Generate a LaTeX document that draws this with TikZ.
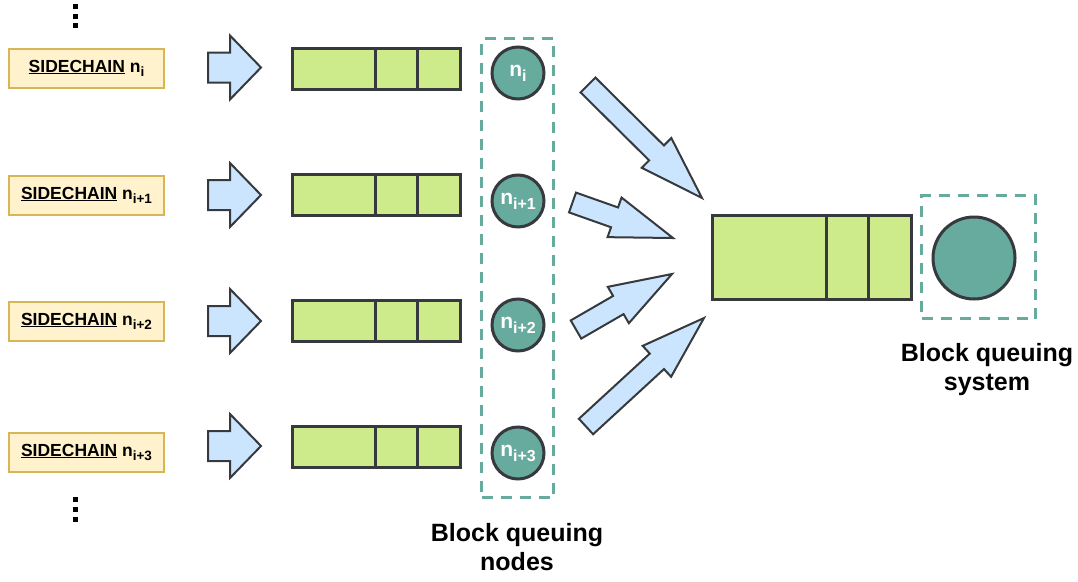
\documentclass[tikz,border=0pt]{standalone}
\usepackage{fontspec}
\setmainfont{Liberation Sans}
\usetikzlibrary{calc}
\definecolor{scfill}{HTML}{FFF2CC}
\definecolor{scdraw}{HTML}{D6B656}
\definecolor{arfill}{HTML}{CCE5FF}
\definecolor{dark}{HTML}{36393D}
\definecolor{qfill}{HTML}{CDEB8B}
\definecolor{teal}{HTML}{67AB9F}
\newcommand{\scsub}[1]{\raisebox{-4pt}{\fontsize{13.5}{14}\selectfont #1}}
\newcommand{\cirsub}[1]{\raisebox{-5pt}{\fontsize{16}{17}\selectfont #1}}
\tikzset{
  sidechain/.style={draw=scdraw, fill=scfill, line width=2pt, minimum width=155pt, minimum height=39pt, inner sep=0pt, font=\fontsize{17.5}{20}\selectfont\bfseries},
  barrowstyle/.style={draw=dark, fill=arfill, line width=2pt, line join=miter},
  queue/.style={draw=dark, fill=qfill, line width=3pt, inner sep=0pt},
  qnode/.style={circle, draw=dark, fill=teal, line width=3pt, minimum size=52pt, inner sep=0pt, text=white, font=\fontsize{21}{22}\selectfont\bfseries},
  dashbox/.style={draw=teal, line width=3pt, dash pattern=on 11pt off 8pt, inner sep=0pt},
  divider/.style={draw=dark, line width=3pt},
  caption/.style={align=center, font=\fontsize{25}{29}\selectfont\bfseries},
  dotsq/.style={fill=black, minimum size=5pt, inner sep=0pt}
}
% tail x, tail y, angle, length, shaft half width, head half width, head length
\newcommand{\barrow}[7]{\draw[barrowstyle, shift={(#1,#2)}, rotate=#3] (0,-#5) -- ({#4-#7},-#5) -- ({#4-#7},-#6) -- (#4,0) -- ({#4-#7},#6) -- ({#4-#7},#5) -- (0,#5) -- cycle;}
\begin{document}
\begin{tikzpicture}[x=1pt,y=-1pt]
\useasboundingbox (0,0) rectangle (1078,581);
% dots
\node[dotsq] (dt1) at (75.5,6) {};
\node[dotsq] (dt2) at (75.5,16) {};
\node[dotsq] (dt3) at (75.5,25.5) {};
\node[dotsq] (db1) at (75.5,499) {};
\node[dotsq] (db2) at (75.5,509) {};
\node[dotsq] (db3) at (75.5,519) {};
% sidechains
\node[sidechain] (s1) at (86.5,68) {\underline{SIDECHAIN} n\scsub{i}};
\node[sidechain] (s2) at (86.5,195) {\underline{SIDECHAIN} n\scsub{i+1}};
\node[sidechain] (s3) at (86.5,321) {\underline{SIDECHAIN} n\scsub{i+2}};
\node[sidechain] (s4) at (86.5,452) {\underline{SIDECHAIN} n\scsub{i+3}};
% horizontal block arrows
\barrow{208}{67.5}{0}{53}{15}{32}{31}
\barrow{208}{195}{0}{53}{15}{32}{31}
\barrow{208}{321}{0}{53}{15}{32}{31}
\barrow{208}{446}{0}{53}{15}{32}{31}
% queues
\foreach \n/\y in {1/69,2/195,3/321,4/447}{
  \node[queue, minimum width=168pt, minimum height=41pt] (q\n) at (376,\y) {};
  \draw[divider] ($(q\n.north west)+(85,0)$) -- ($(q\n.south west)+(85,0)$);
  \draw[divider] ($(q\n.north west)+(127,0)$) -- ($(q\n.south west)+(127,0)$);
}
% node group
\node[dashbox, minimum width=72pt, minimum height=459pt] (grp) at (517.5,268) {};
\node[qnode] (c1) at (518,73) {n\cirsub{i}};
\node[qnode] (c2) at (518,201) {n\cirsub{i+1}};
\node[qnode] (c3) at (518,325) {n\cirsub{i+2}};
\node[qnode] (c4) at (518,453) {n\cirsub{i+3}};
% diagonal block arrows
\barrow{588}{85}{-44.75}{160.5}{10.5}{21}{64}
\barrow{572.5}{202.5}{-19.46}{106.6}{10.5}{21}{62}
\barrow{576}{329.5}{30.03}{110.9}{10.5}{21}{62}
\barrow{586}{426.5}{42.6}{160.3}{10.5}{21}{64}
% big queue
\node[queue, minimum width=199pt, minimum height=84pt] (bq) at (811.5,257) {};
\draw[divider] ($(bq.north west)+(116,0)$) -- ($(bq.south west)+(116,0)$);
\draw[divider] ($(bq.north west)+(158,0)$) -- ($(bq.south west)+(158,0)$);
\node[dashbox, minimum width=114pt, minimum height=123pt] (sys) at (978.5,257) {};
\node[qnode, minimum size=82pt] (server) at (974,258) {};
% captions
\node[caption] (cap1) at (517,547.5) {Block queuing\\nodes};
\node[caption] (cap2) at (987,369.5) {Block queuing\\system};
\end{tikzpicture}
\end{document}
